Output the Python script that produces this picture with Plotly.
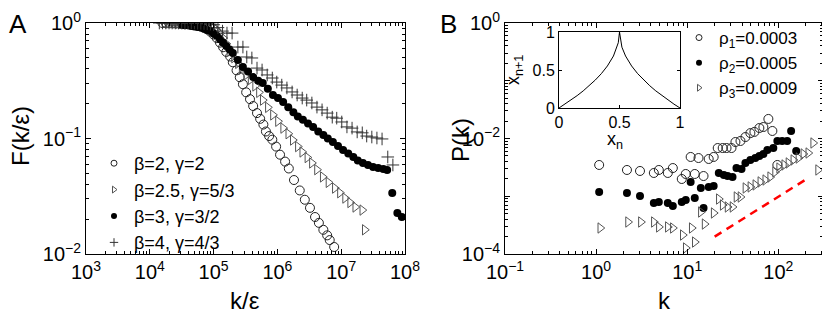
import plotly.graph_objects as go

# ---- panel A: F(k/eps) ----
a_circ_x = [1.58e4, 1.78e4, 2.0e4, 2.24e4, 2.51e4, 2.82e4, 3.16e4, 3.55e4, 3.98e4, 4.47e4,
            5.01e4, 5.62e4, 6.31e4, 7.08e4, 7.94e4, 8.91e4, 1.0e5, 1.12e5, 1.26e5, 1.41e5,
            1.58e5, 1.82e5, 2.0e5, 2.29e5, 2.57e5, 2.88e5, 3.24e5, 3.72e5, 4.17e5, 4.79e5,
            5.37e5, 6.03e5, 6.61e5, 7.41e5, 8.32e5, 9.55e5, 1.10e6, 1.32e6, 1.51e6, 1.82e6,
            2.24e6, 2.69e6, 3.24e6, 3.89e6, 4.47e6, 5.25e6, 6.03e6, 6.61e6, 7.76e6]
a_circ_y = [1, 1, 1, 0.995, 0.993, 0.991, 0.986, 0.982, 0.977, 0.971,
            0.962, 0.951, 0.933, 0.912, 0.881, 0.841, 0.794, 0.741, 0.676, 0.617,
            0.562, 0.513, 0.457, 0.389, 0.339, 0.295, 0.251, 0.219, 0.191, 0.166,
            0.148, 0.132, 0.115, 0.105, 0.0977, 0.0851, 0.0724, 0.0631, 0.0550, 0.0437,
            0.0355, 0.0295, 0.0251, 0.0209, 0.0186, 0.0162, 0.0145, 0.0132, 0.0115]

a_tri_x = [2.0e4, 2.24e4, 2.51e4, 2.82e4, 3.16e4, 3.55e4, 3.98e4, 4.47e4, 5.01e4, 5.62e4,
           6.31e4, 7.08e4, 7.94e4, 8.91e4, 1.0e5, 1.12e5, 1.26e5, 1.41e5, 1.58e5, 1.82e5,
           2.09e5, 2.40e5, 2.75e5, 3.24e5, 3.80e5, 4.47e5, 5.13e5, 5.89e5, 7.08e5, 8.51e5,
           1.02e6, 1.23e6, 1.48e6, 1.74e6, 2.09e6, 2.45e6, 2.95e6, 3.47e6, 4.17e6, 5.13e6,
           6.31e6, 7.94e6, 9.55e6, 1.15e7, 1.38e7, 1.66e7, 2.14e7, 2.34e7]
a_tri_y = [1, 1, 1, 0.995, 0.993, 0.991, 0.986, 0.982, 0.977, 0.973,
           0.966, 0.959, 0.951, 0.938, 0.923, 0.871, 0.813, 0.741, 0.661, 0.575,
           0.501, 0.447, 0.398, 0.355, 0.324, 0.285, 0.251, 0.215, 0.186, 0.160,
           0.141, 0.123, 0.110, 0.0970, 0.0851, 0.0764, 0.0684, 0.0614, 0.0537, 0.0465,
           0.0417, 0.0372, 0.0339, 0.0305, 0.0279, 0.0255, 0.0240, 0.0162]

a_dot_x = [3.16e4, 3.55e4, 3.98e4, 4.47e4, 5.01e4, 5.62e4, 6.31e4, 7.08e4, 7.94e4, 8.91e4,
           1.0e5, 1.12e5, 1.26e5, 1.41e5, 1.58e5, 1.78e5, 2.0e5, 2.40e5, 2.88e5, 3.47e5,
           4.17e5, 5.01e5, 5.89e5, 7.08e5, 8.51e5, 1.02e6, 1.23e6, 1.48e6, 1.78e6, 2.09e6,
           2.51e6, 3.02e6, 3.63e6, 4.37e6, 5.25e6, 6.17e6, 7.41e6, 8.91e6, 1.07e7, 1.29e7,
           1.55e7, 1.82e7, 2.19e7, 2.63e7, 3.16e7, 3.80e7, 4.57e7, 5.25e7, 6.31e7, 7.59e7,
           8.91e7]
a_dot_y = [0.966, 0.955, 0.955, 0.944, 0.933, 0.923, 0.912, 0.891, 0.871, 0.851,
           0.813, 0.776, 0.724, 0.676, 0.631, 0.589, 0.550, 0.479, 0.416, 0.380,
           0.340, 0.316, 0.303, 0.269, 0.238, 0.224, 0.207, 0.186, 0.169, 0.155,
           0.145, 0.135, 0.126, 0.115, 0.107, 0.100, 0.0933, 0.0861, 0.0794, 0.0741,
           0.0692, 0.0646, 0.0614, 0.0589, 0.0566, 0.0556, 0.0545, 0.0533, 0.0337, 0.0226,
           0.0209]

a_plus_x = [1.41e4, 1.58e4, 1.78e4, 2.0e4, 2.24e4, 2.51e4, 2.82e4, 3.16e4, 3.55e4, 3.98e4,
            4.47e4, 5.01e4, 5.62e4, 6.31e4, 7.08e4, 7.94e4, 8.91e4, 1.0e5, 1.17e5, 1.38e5,
            1.62e5, 1.95e5, 2.40e5, 2.88e5, 3.31e5, 3.98e5, 4.79e5, 5.75e5, 6.92e5, 8.32e5,
            9.77e5, 1.17e6, 1.41e6, 1.70e6, 2.04e6, 2.45e6, 2.88e6, 3.47e6, 4.17e6, 5.01e6,
            6.03e6, 7.24e6, 8.51e6, 1.02e7, 1.23e7, 1.48e7, 1.78e7, 2.14e7, 2.51e7, 3.02e7,
            3.63e7, 4.37e7, 5.37e7, 6.46e7]
a_plus_y = [1, 1, 1, 1, 1, 1, 1, 1, 1, 1,
            1, 1, 0.995, 0.993, 0.989, 0.984, 0.977, 0.966, 0.912, 0.851,
            0.818, 0.818, 0.619, 0.619, 0.508, 0.498, 0.407, 0.392, 0.355, 0.334,
            0.308, 0.290, 0.274, 0.253, 0.238, 0.224, 0.215, 0.203, 0.187, 0.177,
            0.166, 0.153, 0.150, 0.139, 0.126, 0.123, 0.114, 0.112, 0.105, 0.103,
            0.101, 0.0991, 0.0692, 0.0590]

a_names = ["β=2, γ=2", "β=2.5, γ=5/3", "β=3, γ=3/2", "β=4, γ=4/3"]

# ---- panel B: P(k) ----
b_circ_k = [1.08, 2.18, 3.03, 4.30, 4.88, 6.12, 6.95, 8.71, 9.63, 10.9,
            12.1, 13.3, 15.1, 17.2, 19.5, 21.6, 24.5, 27.0, 30.6, 33.8,
            38.4, 43.5, 49.3, 54.6, 61.9, 68.5, 77.7, 86.0, 97.5]
b_circ_p = [3.48e-3, 2.85e-3, 2.74e-3, 2.53e-3, 2.85e-3, 2.53e-3, 3.08e-3, 1.99e-3, 2.43e-3, 4.79e-3,
            2.43e-3, 4.59e-3, 2.24e-3, 4.42e-3, 4.79e-3, 6.84e-3, 6.84e-3, 6.84e-3, 6.84e-3, 8.69e-3,
            9.06e-3, 1.06e-2, 1.24e-2, 1.30e-2, 1.52e-2, 1.58e-2, 2.18e-2, 1.35e-2, 3.48e-3]

b_dot_k = [1.08, 2.18, 3.03, 4.30, 4.88, 6.12, 6.95, 8.71, 9.63, 10.9,
           12.1, 14.1, 15.1, 17.2, 19.5, 22.2, 25.2, 27.7, 31.4, 34.7,
           39.4, 43.5, 49.3, 55.9, 61.9, 68.5, 75.8, 88.1, 97.5, 110,
           125, 138, 157]
b_dot_p = [1.19e-3, 1.14e-3, 1.01e-3, 7.64e-4, 7.94e-4, 7.64e-4, 6.78e-4, 7.94e-4, 8.61e-4, 1.77e-3,
           9.33e-4, 1.39e-3, 6.26e-4, 1.45e-3, 1.50e-3, 2.53e-3, 2.33e-3, 2.24e-3, 2.15e-3, 3.08e-3,
           2.96e-3, 3.77e-3, 4.25e-3, 4.59e-3, 4.98e-3, 5.40e-3, 6.32e-3, 6.84e-3, 9.06e-3, 9.06e-3,
           9.06e-3, 1.35e-2, 6.08e-3]

b_tri_k = [1.11, 2.24, 3.10, 4.30, 4.88, 6.12, 6.95, 8.93, 9.63, 11.2,
           12.1, 14.1, 15.5, 19.5, 22.2, 24.5, 27.7, 31.4, 34.7, 38.4,
           43.5, 49.3, 55.9, 63.4, 71.8, 81.3, 92.0, 102, 116, 129,
           146, 166, 188, 213, 241, 273]
b_tri_p = [2.82e-4, 3.58e-4, 3.58e-4, 3.58e-4, 2.94e-4, 2.94e-4, 2.82e-4, 2.13e-4, 1.27e-4, 2.82e-4,
           1.61e-4, 5.33e-4, 3.30e-4, 5.13e-4, 8.95e-4, 7.05e-4, 6.52e-4, 6.52e-4, 9.70e-4, 9.70e-4,
           1.39e-3, 1.45e-3, 1.57e-3, 1.77e-3, 1.91e-3, 2.15e-3, 2.63e-3, 3.08e-3, 3.48e-3, 3.77e-3,
           4.25e-3, 4.59e-3, 5.40e-3, 5.61e-3, 8.36e-3, 2.85e-3]

guide_k = [20, 200]
guide_p = [2.0e-4, 1.95e-3]

b_names = ["ρ<sub>1</sub>=0.0003", "ρ<sub>2</sub>=0.0005", "ρ<sub>3</sub>=0.0009"]

# ---- inset: map x_n -> x_n+1 ----
map_x = [0, 0.05, 0.1, 0.15, 0.2, 0.25, 0.3, 0.35, 0.4, 0.45, 0.48, 0.49, 0.5,
         0.51, 0.52, 0.55, 0.6, 0.65, 0.7, 0.75, 0.8, 0.85, 0.9, 0.95, 1]
map_y = [0, 0.051, 0.106, 0.163, 0.225, 0.293, 0.368, 0.452, 0.553, 0.684, 0.8, 0.859, 1,
         0.859, 0.8, 0.684, 0.553, 0.452, 0.368, 0.293, 0.225, 0.163, 0.106, 0.051, 0]

# the page body has an 8px margin, so the figure is a little smaller and positions
# below are given in window pixels, then shifted
OFF = 8
W, H = 830 - OFF, 320 - OFF
FONT = "Liberation Sans"


def fx(x):
    return (x - OFF) / W


def fy(y):
    return 1 - (y - OFF) / H


def px(x0, x1):
    return [fx(x0), fx(x1)]


def py(y_top, y_bot):
    return [fy(y_bot), fy(y_top)]


def minor_vals(lo, hi):
    vals = []
    for e in range(lo, hi + 1):
        vals += [m * 10.0 ** e for m in range(2, 10)]
    return vals


def sup(e):
    return "10<sup>" + (str(e) if e >= 0 else "−" + str(-e)) + "</sup>"


def log_axis(domain, rng, decades, labelled, anchor):
    return dict(
        type="log", domain=domain, range=rng, anchor=anchor,
        showline=True, linecolor="black", linewidth=1, mirror="ticks",
        ticks="inside", ticklen=5, tickcolor="black",
        tickvals=[10.0 ** e for e in decades],
        ticktext=[sup(e) if e in labelled else "" for e in decades],
        tickfont=dict(family=FONT, size=20, color="black"),
        showgrid=False, zeroline=False,
        minor=dict(tickvals=minor_vals(decades[0] - 1, decades[-1]), ticks="inside",
                   ticklen=3, tickcolor="black", showgrid=False),
    )


fig = go.Figure()

style_a = [
    dict(symbol="circle-open", size=9, color="#222", line=dict(width=1, color="#222")),
    dict(symbol="triangle-right-open", size=9, color="#555", line=dict(width=1, color="#555")),
    dict(symbol="circle", size=8, color="black"),
    dict(symbol="cross-thin-open", size=9, color="#333", line=dict(width=1, color="#333")),
]
for xs, ys, name, mk in zip([a_circ_x, a_tri_x, a_dot_x, a_plus_x],
                            [a_circ_y, a_tri_y, a_dot_y, a_plus_y], a_names, style_a):
    fig.add_trace(go.Scatter(x=xs, y=ys, mode="markers", name=name, marker=mk,
                             xaxis="x", yaxis="y", showlegend=False))
    # small legend-only entry
    fig.add_trace(go.Scatter(x=[None], y=[None], mode="markers", name=name,
                             marker=dict(mk, size=6), xaxis="x", yaxis="y",
                             legend="legend", legendgroup=name))

style_b = [
    dict(symbol="circle-open", size=9, color="#222", line=dict(width=1, color="#222")),
    dict(symbol="circle", size=8, color="black"),
    dict(symbol="triangle-right-open", size=9, color="#555", line=dict(width=1, color="#555")),
]
for xs, ys, name, mk in zip([b_circ_k, b_dot_k, b_tri_k], [b_circ_p, b_dot_p, b_tri_p],
                            b_names, style_b):
    fig.add_trace(go.Scatter(x=xs, y=ys, mode="markers", name=name, marker=mk,
                             xaxis="x2", yaxis="y2", showlegend=False))
    fig.add_trace(go.Scatter(x=[None], y=[None], mode="markers", name=name,
                             marker=dict(mk, size=6), xaxis="x2", yaxis="y2",
                             legend="legend2"))

fig.add_trace(go.Scatter(x=guide_k, y=guide_p, mode="lines", showlegend=False,
                         line=dict(color="red", width=2.5, dash="8px,6px"),
                         xaxis="x2", yaxis="y2"))

fig.add_trace(go.Scatter(x=map_x, y=map_y, mode="lines", showlegend=False,
                         line=dict(color="black", width=1), xaxis="x3", yaxis="y3"))

inset_axis = dict(range=[0, 1], showline=True, linecolor="black", linewidth=1, mirror="ticks",
                  ticks="inside", ticklen=3, tickcolor="black",
                  tickvals=[0, 0.5, 1], ticktext=["0", "0.5", "1"],
                  tickfont=dict(family=FONT, size=16, color="black"),
                  showgrid=False, zeroline=False)

legend_base = dict(bgcolor="rgba(0,0,0,0)", borderwidth=0, itemsizing="trace",
                   tracegroupgap=0, xanchor="left", yanchor="top")

fig.update_layout(
    width=W, height=H, margin=dict(l=0, r=0, t=0, b=0, autoexpand=False),
    paper_bgcolor="white", plot_bgcolor="white",
    font=dict(family=FONT, color="black"),
    xaxis=log_axis(px(86, 405), [3, 8], list(range(3, 9)), list(range(3, 9)), "y"),
    yaxis=log_axis(py(23, 254), [-2, 0], [-2, -1, 0], [-2, -1, 0], "x"),
    xaxis2=log_axis(px(505, 823), [-1, 2.49], [-1, 0, 1, 2], [-1, 0, 1, 2], "y2"),
    yaxis2=log_axis(py(23, 254), [-4, 0], [-4, -3, -2, -1, 0], [-4, -2, 0], "x2"),
    xaxis3=dict(inset_axis, domain=px(559, 680), anchor="y3"),
    yaxis3=dict(inset_axis, domain=py(32, 108), anchor="x3"),
    legend=dict(legend_base, x=fx(94), y=fy(145),
                font=dict(family=FONT, size=18, color="black")),
    legend2=dict(legend_base, x=fx(679), y=fy(20),
                 font=dict(family=FONT, size=17, color="black")),
)

notes = [
    ("A", 18, 24, 26, 0),
    ("B", 449, 24, 26, 0),
    ("k/ε", 245, 300, 24, 0),
    ("k", 664, 300, 24, 0),
    ("F(k/ε)", 20, 136, 24, -90),
    ("P(k)", 460, 140, 24, -90),
    ("x<sub>n</sub>", 615, 140, 18, 0),
    ("x<sub>n+1</sub>", 515, 70, 18, -90),
]
for text, x, y, size, angle in notes:
    fig.add_annotation(text=text, x=fx(x), y=fy(y), xref="paper", yref="paper",
                       showarrow=False, textangle=angle, xanchor="center", yanchor="middle",
                       font=dict(family=FONT, size=size, color="black"))

fig.write_html("out.html")
